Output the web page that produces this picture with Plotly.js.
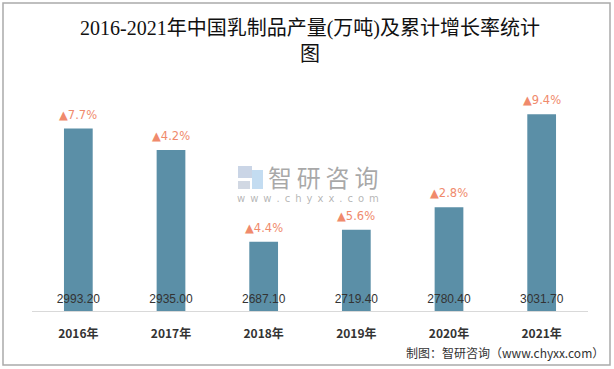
<!DOCTYPE html>
<html>
<head>
<meta charset="utf-8">
<script src="https://cdn.plot.ly/plotly-3.0.1.min.js"></script>
<style>html,body{margin:0;padding:0;background:#fff;}#chart{width:614px;height:369px;}</style>
</head>
<body>
<div id="chart"></div>
<script>
const years = ["2016年", "2017年", "2018年", "2019年", "2020年", "2021年"];
const output = [2993.20, 2935.00, 2687.10, 2719.40, 2780.40, 3031.70];
const growth = ["7.7%", "4.2%", "4.4%", "5.6%", "2.8%", "9.4%"];

const L = 32, R = 26, T = 89, B = 58;
const W = 614, H = 369;
const pw = W - L - R, ph = H - T - B;
const px = x => (x - L) / pw;
const py = y => (H - B - y) / ph;

const bars = {
  type: 'bar',
  x: years,
  y: output,
  width: 0.31,
  marker: {color: '#5B8FA7', line: {width: 0}},
  textposition: 'none',
  hoverinfo: 'skip'
};

const valueLabels = {
  type: 'scatter',
  mode: 'text',
  x: years,
  y: output.map(() => 2530),
  text: output.map(v => v.toFixed(2)),
  textfont: {family: 'Liberation Sans, Arial, sans-serif', size: 12, color: '#333333'},
  hoverinfo: 'skip'
};

const growthAnn = years.map((yr, i) => ({
  xref: 'x', yref: 'y', x: yr, y: output[i],
  text: '▲' + growth[i], showarrow: false,
  xanchor: 'center', yanchor: 'bottom', yshift: 5,
  font: {family: 'DejaVu Sans, sans-serif', size: 11.5, color: '#F08A6C'}
}));

const layout = {
  width: W, height: H,
  margin: {l: L, r: R, t: T, b: B, pad: 0},
  paper_bgcolor: '#ffffff',
  plot_bgcolor: '#ffffff',
  showlegend: false,
  title: {
    text: '2016-2021年中国乳制品产量(万吨)及累计增长率统计<br>图',
    font: {family: 'Liberation Serif, Noto Sans CJK SC, serif', size: 20, color: '#111111'},
    x: 0.5, xref: 'paper', xanchor: 'center',
    y: 0.905, yref: 'container', yanchor: 'top'
  },
  xaxis: {
    type: 'category',
    showgrid: false, zeroline: false,
    showline: true, linecolor: '#d9d9d9', linewidth: 1,
    ticks: 'outside', ticklen: 12, tickcolor: 'rgba(0,0,0,0)',
    tickfont: {family: 'Noto Sans CJK SC, sans-serif', size: 12, color: '#333333', weight: 'bold'},
    fixedrange: true
  },
  yaxis: {
    range: [2500, 3100],
    visible: false,
    showgrid: false, zeroline: false,
    fixedrange: true
  },
  shapes: [
    {type: 'rect', xref: 'paper', yref: 'paper',
     x0: px(3), x1: px(610), y0: py(365), y1: py(3),
     line: {color: '#ababab', width: 1.5}, fillcolor: 'rgba(0,0,0,0)', layer: 'below'},
    {type: 'rect', xref: 'paper', yref: 'paper',
     x0: px(238), x1: px(252), y0: py(178), y1: py(166),
     line: {width: 0}, fillcolor: 'rgba(180,195,220,0.7)', layer: 'below'},
    {type: 'rect', xref: 'paper', yref: 'paper',
     x0: px(252), x1: px(263), y0: py(189), y1: py(170),
     line: {width: 0}, fillcolor: 'rgba(170,205,235,0.7)', layer: 'below'},
    {type: 'rect', xref: 'paper', yref: 'paper',
     x0: px(238), x1: px(250), y0: py(189), y1: py(181),
     line: {width: 0}, fillcolor: 'rgba(190,200,215,0.7)', layer: 'below'}
  ],
  annotations: [
    {xref: 'paper', yref: 'paper', x: px(606), y: py(352), xanchor: 'right', yanchor: 'middle',
     text: '制图：智研咨询（www.chyxx.com）', showarrow: false,
     font: {family: 'Noto Sans CJK SC, sans-serif', size: 12, color: '#333333'}},
    {xref: 'paper', yref: 'paper', x: px(323), y: py(176), xanchor: 'center', yanchor: 'middle',
     text: '智\u2009研\u2009咨\u2009询', showarrow: false,
     font: {family: 'Noto Sans CJK SC, sans-serif', size: 24, color: 'rgba(140,140,140,0.75)'}},
    {xref: 'paper', yref: 'paper', x: px(308), y: py(198), xanchor: 'center', yanchor: 'middle',
     text: 'w\u2002w\u2002w\u2002.\u2002c\u2002h\u2002y\u2002x\u2002x\u2002.\u2002c\u2002o\u2002m', showarrow: false,
     font: {family: 'DejaVu Sans, sans-serif', size: 10, color: 'rgba(150,150,150,0.7)'}}
  ].concat(growthAnn)
};

Plotly.newPlot('chart', [bars, valueLabels], layout, {displayModeBar: false, staticPlot: true});
</script>
</body>
</html>
